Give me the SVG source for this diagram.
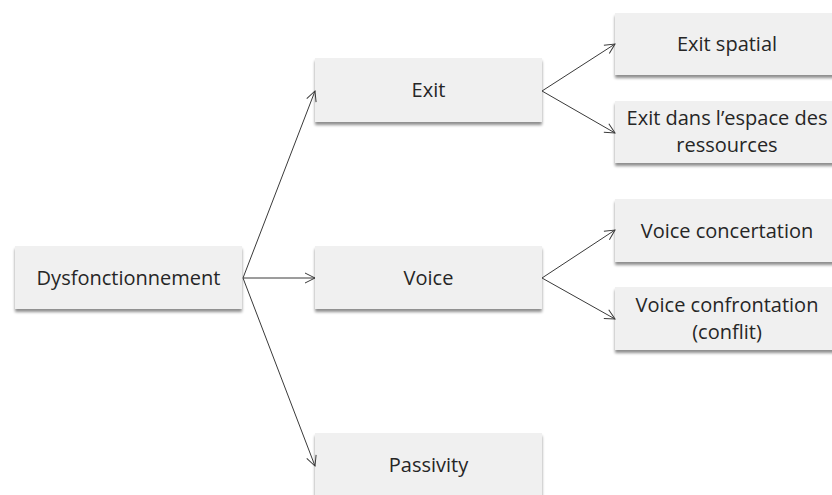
<svg xmlns="http://www.w3.org/2000/svg" width="832" height="495" viewBox="0 0 832 495">
<defs>
<filter id="sh" x="-5%" y="-10%" width="110%" height="130%">
<feGaussianBlur in="SourceAlpha" stdDeviation="1.5"/>
<feOffset dx="0" dy="2.5" result="b"/>
<feComponentTransfer><feFuncA type="linear" slope="0.45"/></feComponentTransfer>
<feMerge><feMergeNode/><feMergeNode in="SourceGraphic"/></feMerge>
</filter>
<marker id="ah" markerWidth="14" markerHeight="14" refX="11" refY="6" orient="auto" markerUnits="userSpaceOnUse">
<path d="M1,1 L11,6 L1,11" fill="none" stroke="#3a3a3a" stroke-width="1"/>
</marker>
</defs>
<style>
.box{fill:#f0f0f0;filter:url(#sh)}
.t{font-family:"Open Sans","Liberation Sans",sans-serif;font-size:20px;fill:#262626;text-anchor:middle}
.c line{stroke:#3a3a3a;stroke-width:1;marker-end:url(#ah)}
</style>
<rect width="832" height="495" fill="#ffffff"/>
<g id="n-dys"><rect class="box" x="15" y="246" width="227" height="63"/><text class="t" x="128.5" y="285">Dysfonctionnement</text></g>
<g id="n-exit"><rect class="box" x="315" y="58" width="227" height="64"/><text class="t" x="428.5" y="97">Exit</text></g>
<g id="n-voice"><rect class="box" x="315" y="246" width="227" height="63"/><text class="t" x="428.5" y="285">Voice</text></g>
<g id="n-passivity"><rect class="box" x="315" y="433" width="227" height="64"/><text class="t" x="428.5" y="472">Passivity</text></g>
<g id="n-exitspatial"><rect class="box" x="615" y="13" width="227" height="62"/><text class="t" x="727" y="51">Exit spatial</text></g>
<g id="n-exitres"><rect class="box" x="615" y="101" width="227" height="62"/><text class="t" x="727" y="125">Exit dans l’espace des</text><text class="t" x="727" y="152">ressources</text></g>
<g id="n-voiceconc"><rect class="box" x="615" y="199" width="227" height="63"/><text class="t" x="727" y="238">Voice concertation</text></g>
<g id="n-voiceconf"><rect class="box" x="615" y="287" width="227" height="63"/><text class="t" x="727" y="312">Voice confrontation</text><text class="t" x="727" y="339">(conflit)</text></g>
<g id="connectors" class="c">
<line x1="243" y1="278" x2="315" y2="91"/>
<line x1="243" y1="278" x2="315" y2="278"/>
<line x1="243" y1="278" x2="315" y2="466"/>
<line x1="542" y1="91" x2="615" y2="44"/>
<line x1="542" y1="91" x2="615" y2="133"/>
<line x1="542" y1="278" x2="615" y2="230"/>
<line x1="542" y1="278" x2="615" y2="319"/>
</g>
</svg>
